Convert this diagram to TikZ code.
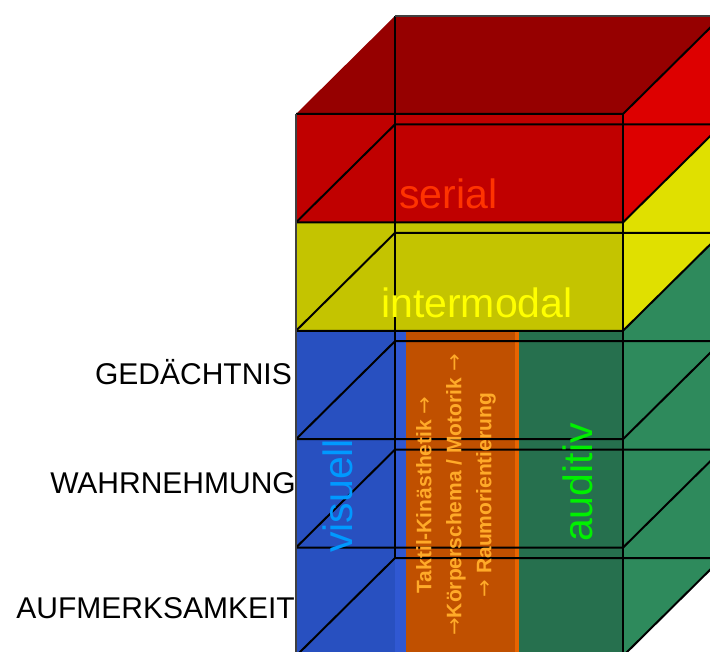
\documentclass[tikz,border=0pt]{standalone}
\usepackage{fontspec}
\setmainfont{Liberation Sans}
\newfontfamily\kArrowFont{DejaVu Sans}
\newcommand{\kArrow}{{\kArrowFont\mdseries →}}
\begin{document}
\begin{tikzpicture}[x=1pt,y=-1pt,
    boxline/.style={draw=black,line width=2pt},
    outline/.style={draw=kGrey,line width=2.2pt},
    levellabel/.style={inner sep=0pt,font=\fontsize{30}{36}\selectfont},
    layerlabel/.style={inner sep=0pt,font=\fontsize{41}{49}\selectfont}]
  \definecolor{kGrey}{RGB}{64,64,64}
  \definecolor{kTopRed}{RGB}{150,0,0}
  \definecolor{kRed}{RGB}{192,0,0}
  \definecolor{kRedSide}{RGB}{221,0,0}
  \definecolor{kYellow}{RGB}{196,196,0}
  \definecolor{kYellowSide}{RGB}{224,224,0}
  \definecolor{kBlue}{RGB}{40,80,192}
  \definecolor{kBlueLight}{RGB}{48,88,210}
  \definecolor{kOrange}{RGB}{192,80,0}
  \definecolor{kOrangeLight}{RGB}{232,100,0}
  \definecolor{kGreen}{RGB}{38,112,78}
  \definecolor{kGreenSide}{RGB}{46,138,92}
  \definecolor{kSerialText}{RGB}{255,51,0}
  \definecolor{kInterText}{RGB}{255,255,0}
  \definecolor{kVisText}{RGB}{0,153,255}
  \definecolor{kAudText}{RGB}{0,240,0}
  \definecolor{kTaktText}{RGB}{255,170,40}

  \useasboundingbox (0,0) rectangle (710,652);
  \clip (0,0) rectangle (710,652);

  % faces
  \fill[kTopRed] (296,114) -- (395,16) -- (722,16) -- (623,114) -- cycle;
  \fill[kRed] (296,114) rectangle (623,222.4);
  \fill[kYellow] (296,222.4) rectangle (623,330.8);
  \fill[kBlue] (296,330.8) rectangle (406,656);
  \fill[kBlueLight] (395,330.8) rectangle (406,656);
  \fill[kOrange] (406,330.8) rectangle (519,656);
  \fill[kOrangeLight] (515,330.8) rectangle (519,656);
  \fill[kGreen] (519,330.8) rectangle (623,656);
  \fill[kRedSide] (623,114) -- (722,16) -- (722,124.4) -- (623,222.4) -- cycle;
  \fill[kYellowSide] (623,222.4) -- (722,124.4) -- (722,232.8) -- (623,330.8) -- cycle;
  \fill[kGreenSide] (623,330.8) -- (722,232.8) -- (722,558) -- (623,656) -- cycle;

  % layer edges, front level / back level
  \foreach \f/\b in {222.4/124.4, 330.8/232.8, 439.2/341.2, 547.6/449.6, 656/558}
  {
    \draw[boxline] (296,\f) -- (623,\f) -- (722,\b);
    \draw[boxline] (296,\f) -- (395,\b) -- (722,\b);
  }
  \draw[boxline] (296,114) -- (623,114) -- (722,16);
  \draw[boxline] (395,16) -- (395,558);
  \draw[boxline] (623,114) -- (623,656);
  \draw[outline] (296,114) -- (296,656);
  \draw[outline] (395,16) -- (722,16);

  % labels
  \node[levellabel,anchor=base east] (gedaechtnis) at (292,385) {GEDÄCHTNIS};
  \node[levellabel,anchor=base east] (wahrnehmung) at (296,493) {WAHRNEHMUNG};
  \node[levellabel,anchor=base east] (aufmerksamkeit) at (295,618) {AUFMERKSAMKEIT};

  \node[layerlabel,text=kSerialText,anchor=base west] (serial) at (399,209) {serial};
  \node[layerlabel,text=kInterText,anchor=base west] (intermodal) at (381,318) {intermodal};
  \node[layerlabel,text=kVisText,rotate=90,anchor=base west] (visuell) at (352,553) {visuell};
  \node[layerlabel,text=kAudText,rotate=90,anchor=base west] (auditiv) at (592,542) {auditiv};
  \node[rotate=90,align=center,inner sep=0pt,text=kTaktText,
        font=\bfseries\fontsize{21}{30}\selectfont] (taktil) at (456,495)
    {Taktil-Kinästhetik \kArrow\\\kArrow Körperschema / Motorik \kArrow\\\kArrow{} Raumorientierung};
\end{tikzpicture}
\end{document}
